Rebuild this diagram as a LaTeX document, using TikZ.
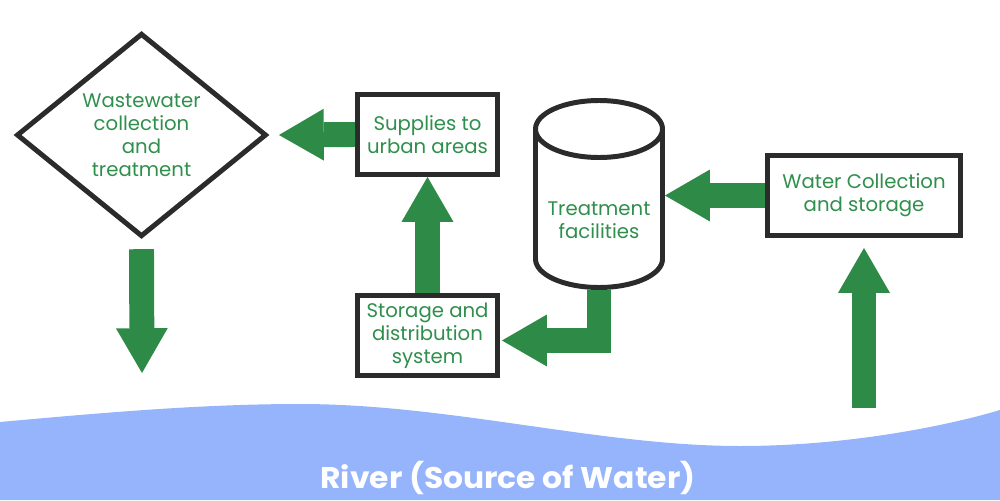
\documentclass[tikz,border=0pt]{standalone}
\usepackage{fontspec}
\setmainfont{Poppins}
\usetikzlibrary{arrows.meta,shapes.geometric,calc}
\definecolor{fgreen}{HTML}{2E8B47}
\definecolor{tgreen}{HTML}{2F8F4C}
\definecolor{river}{HTML}{95B4FB}
\definecolor{bordercol}{HTML}{2B2B2B}
\begin{document}
\begin{tikzpicture}[x=0.02cm,y=-0.02cm,
  txt/.style={text=tgreen, align=center, font=\fontsize{11.2}{13}\selectfont},
  box/.style={txt, draw=bordercol, line width=2.83pt, fill=white, minimum width=2.8cm, minimum height=1.6cm, inner sep=0pt},
  fat/.style={draw=fgreen, line width=14.2pt, line join=miter,
    -{Triangle[length=25.5pt 0 0, width=29.5pt 0 0, line width=0pt 0 0]}},
  cylline/.style={draw=bordercol, line width=2.83pt},
]
\useasboundingbox (0,0) rectangle (1000,500);
% river
\fill[river] (0,422) .. controls (100,413) and (200,404) .. (300,404)
  .. controls (450,404) and (600,446) .. (740,446)
  .. controls (850,446) and (950,425) .. (1000,410) -- (1000,500) -- (0,500) -- cycle;
\node[font=\bfseries\fontsize{17}{20}\selectfont, text=white, anchor=base] (title) at (508,488) {\scalebox{1.05}[1]{River (Source of Water)}};

% nodes
\node[txt, diamond, draw=bordercol, line width=2.83pt, minimum width=5.0cm, minimum height=4.07cm, inner sep=0pt] (dia) at (141.5,135) {Wastewater\\collection\\and\\treatment};
\node[box] (sup) at (427.5,134.5) {Supplies to\\urban areas};
\node[box] (sto) at (427.5,335.5) {Storage and\\distribution\\system};
\node[box, minimum width=3.86cm] (wat) at (864,195.5) {Water Collection\\and storage};

% cylinder
\fill[white] (535.5,129) -- (535.5,259) arc[start angle=180, end angle=0, x radius=63.5, y radius=28.5] -- (662.5,129) -- cycle;
\draw[cylline] (535.5,129) -- (535.5,259) arc[start angle=180, end angle=0, x radius=63.5, y radius=28.5] -- (662.5,129);
\draw[cylline, fill=white] (599,129) ellipse [x radius=63.5, y radius=28.5];
\node[txt, minimum width=2.64cm, minimum height=2.8cm, inner sep=0pt, outer sep=0pt] (cyl) at (599,220) {Treatment\\facilities};

% connectors
\coordinate (rv) at (864,408);
\coordinate (dn) at (142,373);
\draw[fat] (sup.west) -- ($(dia.east)+(10,0)$);
\draw[fat] (sto.north) -- (sup.south);
\draw[fat] (cyl.south) |- ($(sto.east)+(2,5)$);
\draw[fat] (wat.west) -- (wat.west -| cyl.east);
\draw[fat] (rv) -- ($(wat.south)+(0,10)$);
\draw[fat] ($(dia.south)+(0,10)$) -- (dn);
\end{tikzpicture}
\end{document}
